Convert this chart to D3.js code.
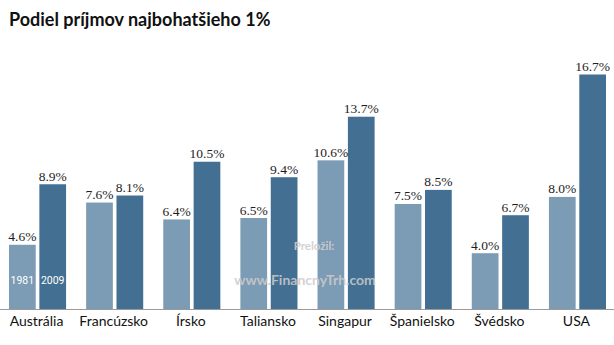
<!DOCTYPE html>
<html><head><meta charset="utf-8">
<script src="https://cdn.jsdelivr.net/npm/d3@7"></script>
<style>body{margin:0;background:#fff}svg{display:block}</style>
</head><body>
<script>
const categories = ["Austrália","Francúzsko","Írsko","Taliansko","Singapur","Španielsko","Švédsko","USA"];
const years = ["1981","2009"];
const values1981 = [4.6, 7.6, 6.4, 6.5, 10.6, 7.5, 4.0, 8.0];
const values2009 = [8.9, 8.1, 10.5, 9.4, 13.7, 8.5, 6.7, 16.7];
const colors = ["#7c9bb4", "#436f92"];

const W = 614, H = 345;
const svg = d3.select("body").append("svg").attr("width", W).attr("height", H);

const x = d3.scaleBand().domain(categories).range([9, 606]).paddingInner(0.26).paddingOuter(0);
const xs = d3.scaleBand().domain(years).range([0, x.bandwidth()]).paddingInner(0.12);
const y = d3.scaleLinear().domain([0, 16.7]).range([309.5, 74.5]);

svg.append("text").attr("x", 9).attr("y", 26)
  .attr("font-family", "Lato, 'Open Sans', sans-serif").attr("font-weight", "bold")
  .attr("font-size", 18).attr("fill", "#111").text("Podiel príjmov najbohatšieho 1%");

const data = categories.map((c, i) => ({c, vals: [values1981[i], values2009[i]]}));
const g = svg.selectAll("g.grp").data(data).enter().append("g")
  .attr("transform", d => `translate(${x(d.c)},0)`);

g.selectAll("rect").data(d => d.vals.map((v, j) => ({v, yr: years[j], j}))).enter().append("rect")
  .attr("x", d => xs(d.yr)).attr("width", xs.bandwidth())
  .attr("y", d => y(d.v)).attr("height", d => y(0) - y(d.v))
  .attr("fill", d => colors[d.j]);

g.selectAll("text.val").data(d => d.vals.map((v, j) => ({v, yr: years[j]}))).enter().append("text")
  .attr("class", "val")
  .attr("x", d => xs(d.yr) + xs.bandwidth() / 2).attr("y", d => y(d.v) - 3.5)
  .attr("text-anchor", "middle")
  .attr("font-family", "'Liberation Serif', 'DejaVu Serif', serif").attr("font-size", 13.5)
  .attr("fill", "#1e1e1e").text(d => d.v.toFixed(1) + "%");

// year labels inside first group
const first = svg.append("g").attr("transform", `translate(${x(categories[0])},0)`);
years.forEach(yr => {
  first.append("text").attr("x", xs(yr) + xs.bandwidth() / 2).attr("y", 284)
    .attr("text-anchor", "middle").attr("font-family", "'Liberation Sans Narrow', 'Roboto', sans-serif")
    .attr("font-size", 10.5).attr("fill", "#fff").text(yr);
});

// axis line
svg.append("line").attr("x1", 0).attr("x2", W).attr("y1", 309.5).attr("y2", 309.5)
  .attr("stroke", "#9a9a9a").attr("stroke-width", 1);

// category labels
const xAxis = d3.axisBottom(x).tickSize(0).tickPadding(0);
const ax = svg.append("g").attr("transform", "translate(-1,316)").call(xAxis);
ax.select(".domain").remove();
ax.selectAll("text").attr("font-family", "Lato, 'Open Sans', sans-serif")
  .attr("font-size", 14).attr("fill", "#111").attr("dy", "0.71em");

// watermark
svg.append("text").attr("x", 314).attr("y", 250).attr("text-anchor", "middle")
  .attr("font-family", "Lato, sans-serif").attr("font-weight", "bold")
  .attr("font-size", 11.5).attr("fill", "#cfcfcf").attr("opacity", 0.9).text("Preložil:");
svg.append("text").attr("x", 305).attr("y", 285).attr("text-anchor", "middle")
  .attr("font-family", "Lato, sans-serif").attr("font-weight", "bold")
  .attr("font-size", 14).attr("fill", "#cccccc").attr("opacity", 0.85).text("www.FinancnyTrh.com");
</script>
</body></html>
